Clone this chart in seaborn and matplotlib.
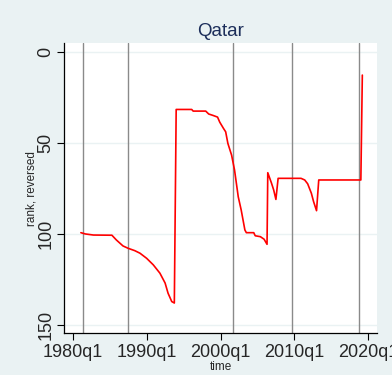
import matplotlib
matplotlib.use("Agg")
import matplotlib.pyplot as plt
import seaborn as sns
import pandas as pd

# Quarterly time (decimal years) and Qatar's rank (reversed axis)
time = [1981.1, 1981.7, 1982.8, 1985.3, 1985.9, 1986.8, 1987.5, 1988.4, 1989.1,
        1990.0, 1990.9, 1991.8, 1992.5, 1992.9, 1993.4, 1993.75,
        1994.0, 1996.1, 1996.3, 1998.0, 1998.4, 1999.0, 1999.6, 1999.9,
        2000.4, 2000.7, 2001.0, 2001.5, 2001.9, 2002.4, 2002.8, 2003.3,
        2003.5, 2004.5, 2004.7, 2005.4, 2005.9, 2006.3,
        2006.4, 2006.9, 2007.2, 2007.5, 2007.8, 2010.9, 2011.4, 2011.8,
        2012.3, 2012.6, 2013.0, 2013.3, 2019.0, 2019.2]
rank = [99.3, 100.0, 100.6, 100.7, 103.3, 106.6, 107.9, 109.2, 110.6,
        113.4, 117.0, 121.6, 127.0, 132.6, 137.2, 138.0,
        31.5, 31.5, 32.4, 32.4, 34.0, 34.8, 35.7, 38.5,
        41.9, 43.8, 50.2, 56.6, 64.8, 79.5, 86.8, 97.8,
        99.3, 99.3, 101.0, 101.5, 102.9, 105.7,
        66.3, 72.0, 75.8, 81.0, 69.4, 69.4, 70.3, 72.4,
        77.6, 82.2, 87.2, 70.3, 70.3, 12.6]

# Reference dates marked with vertical lines
event_dates = [1981.45, 1987.5, 2001.7, 2009.7, 2018.7]

x_ticks = [1980, 1990, 2000, 2010, 2020]
x_tick_labels = ["1980q1", "1990q1", "2000q1", "2010q1", "2020q1"]
y_ticks = [0, 50, 100, 150]

df = pd.DataFrame({"time": time, "rank": rank})

sns.set_theme(style="white")
plt.rcParams["font.family"] = ["Liberation Sans", "DejaVu Sans"]

bg = "#EAF2F3"
fig = plt.figure(figsize=(3.92, 3.75), dpi=100, facecolor=bg)
ax = fig.add_axes([0.163, 0.112, 0.799, 0.773])
ax.set_facecolor("white")

for y in y_ticks:
    ax.axhline(y, color=bg, lw=1.0, zorder=0)
for d in event_dates:
    ax.axvline(d, color="#8a8a8a", lw=1.0, zorder=1)

sns.lineplot(data=df, x="time", y="rank", color="#FF0000", lw=1.2,
             estimator=None, sort=False, ax=ax, zorder=3)

ax.set_xlim(1978.8, 2021.2)
ax.set_ylim(154.5, -5)
ax.set_xticks(x_ticks)
ax.set_xticklabels(x_tick_labels, fontsize=13)
ax.set_yticks(y_ticks)
ax.set_yticklabels([str(v) for v in y_ticks], fontsize=13, rotation=90, va="center")
ax.tick_params(axis="both", which="major", length=5, width=0.8, color="black",
               bottom=True, left=True, pad=3)
ax.tick_params(axis="y", pad=2)

for s in ["top", "right"]:
    ax.spines[s].set_visible(False)
for s in ["left", "bottom"]:
    ax.spines[s].set_color("black")
    ax.spines[s].set_linewidth(0.9)

ax.set_xlabel("time", fontsize=8.5, labelpad=0)
ax.set_ylabel("rank, reversed", fontsize=8.5, labelpad=0)
ax.set_title("Qatar", fontsize=13.5, color="#1C2E5A", pad=5)

fig.savefig("out.png", dpi=100, facecolor=bg)
